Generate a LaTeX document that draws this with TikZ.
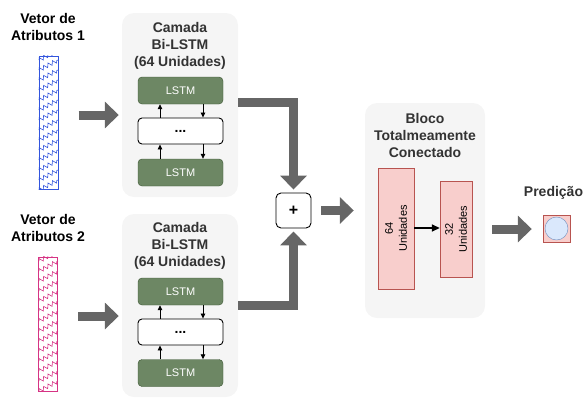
\documentclass[tikz,border=0pt]{standalone}
\usepackage{fontspec}
\setmainfont{Liberation Sans}
\usetikzlibrary{arrows.meta,decorations.pathmorphing}
\definecolor{cinzabloco}{HTML}{F5F5F5}
\definecolor{cinzaseta}{HTML}{666666}
\definecolor{verdelstm}{HTML}{6D8764}
\definecolor{bordalstm}{HTML}{3A5431}
\definecolor{rosadensa}{HTML}{F8CECC}
\definecolor{bordadensa}{HTML}{B85450}
\definecolor{azulsaida}{HTML}{DAE8FC}
\definecolor{bordasaida}{HTML}{6C8EBF}
\definecolor{azulvetor}{HTML}{3355DD}
\definecolor{rosavetor}{HTML}{D63384}
\definecolor{titulo}{HTML}{333333}

\begin{document}
\begin{tikzpicture}
[x=1pt,y=-1pt]
\tikzstyle{block node}=[rectangle,fill=cinzabloco,rounded corners=12pt,inner sep=0]
\tikzstyle{title node}=[align=center,text=titulo,font=\fontsize{14}{17}\selectfont\bfseries]
\tikzstyle{label node}=[align=center,font=\fontsize{14}{17}\selectfont\bfseries]
\tikzstyle{lstm node}=[rectangle,draw=bordalstm,fill=verdelstm,rounded corners=4pt,minimum width=85,minimum height=27,text=white,font=\fontsize{11}{13}\selectfont]
\tikzstyle{dots node}=[rectangle,draw,line width=0.9pt,fill=white,rounded corners=4pt,minimum width=85,minimum height=26,font=\fontsize{14}{17}\selectfont\bfseries]
\tikzstyle{dense node}=[rectangle,draw=bordadensa,fill=rosadensa,inner sep=0,align=center,font=\fontsize{11}{13}\selectfont]
\tikzstyle{vector node}=[rectangle,draw,line width=1pt,minimum width=19,inner sep=0]
\tikzstyle{big arrow}=[line width=9pt,cinzaseta,-{Triangle[length=14pt,width=26pt]}]
\tikzstyle{small arrow}=[line width=0.8pt,-{Triangle[length=5pt,width=4.5pt]}]
\tikzstyle{zig}=[line width=0.6pt,decorate,decoration={zigzag,segment length=5pt,amplitude=2pt}]

\useasboundingbox (0,0) rectangle (584,397);

% vetores de entrada
\node(v1)[vector node,draw=azulvetor,minimum height=133]at(48.5,122.5){};
\node(v2)[vector node,draw=rosavetor,minimum height=134]at(48,324){};
\begin{scope}
\clip (v1.south west) rectangle (v1.north east);
\foreach \k in {-1,...,14} \draw[zig,azulvetor] (39,{60+\k*10}) -- ++(19,-10);
\end{scope}
\begin{scope}
\clip (v2.south west) rectangle (v2.north east);
\foreach \k in {-1,...,14} \draw[zig,rosavetor] (39,{261+\k*10}) -- ++(19,-10);
\end{scope}
\node(l1)[label node]at(48,26.5){Vetor de\\Atributos 1};
\node(l2)[label node]at(48,227.5){Vetor de\\Atributos 2};

% camadas Bi-LSTM
\node(b1)[block node,minimum width=116,minimum height=184]at(180,105){};
\node(b2)[block node,minimum width=116,minimum height=183]at(180,305.5){};
\node(t1)[title node]at(180,45.5){Camada\\Bi-LSTM\\(64 Unidades)};
\node(t2)[title node]at(180,246){Camada\\Bi-LSTM\\(64 Unidades)};

\node(lt1)[lstm node]at(180.5,90.5){LSTM};
\node(d1)[dots node]at(180.5,131){...};
\node(lb1)[lstm node]at(180.5,172.5){LSTM};
\node(lt2)[lstm node]at(180.5,291.5){LSTM};
\node(d2)[dots node]at(180.5,332){...};
\node(lb2)[lstm node]at(180.5,373){LSTM};

\draw[small arrow]([xshift=-20.5]lb1.north)--([xshift=-20.5]d1.south);
\draw[small arrow]([xshift=-20.5]d1.north)--([xshift=-20.5]lt1.south);
\draw[small arrow]([xshift=22.5]lt1.south)--([xshift=22.5]d1.north);
\draw[small arrow]([xshift=22.5]d1.south)--([xshift=22.5]lb1.north);
\draw[small arrow]([xshift=-20.5]lb2.north)--([xshift=-20.5]d2.south);
\draw[small arrow]([xshift=-20.5]d2.north)--([xshift=-20.5]lt2.south);
\draw[small arrow]([xshift=22.5]lt2.south)--([xshift=22.5]d2.north);
\draw[small arrow]([xshift=22.5]d2.south)--([xshift=22.5]lb2.north);

% soma
\node(plus)[rectangle,draw,line width=0.9pt,fill=white,rounded corners=5pt,minimum size=35,font=\fontsize{16}{18}\selectfont\bfseries]at(293.5,210.5){+};

% bloco totalmente conectado
\node(fc)[block node,minimum width=120,minimum height=215]at(425,210.5){};
\node(tfc)[title node]at(425,135){Bloco\\Totalmeamente\\Conectado};
\node(d64)[dense node,minimum width=36,minimum height=121]at(396,228.5){};
\node[rotate=90,align=center,font=\fontsize{11}{14}\selectfont]at(d64){64\\Unidades};
\node(d32)[dense node,minimum width=32,minimum height=96]at(456,229){};
\node[rotate=90,align=center,font=\fontsize{11}{14}\selectfont]at(d32){32\\Unidades};
\draw[line width=1.5pt,-{Triangle[length=8pt,width=7pt]}](d64.east|-0,228)--(d32.west|-0,228);

% saida
\node(out)[rectangle,draw=bordadensa,fill=rosadensa,minimum size=27,inner sep=0]at(556.5,228.5){};
\node(circ)[circle,draw=bordasaida,fill=azulsaida,minimum size=23,inner sep=0]at(out){};
\node(pred)[label node,text=titulo]at(553.5,193){Predição};

% setas grossas
\draw[big arrow]([shift={(20,-7.5)}]v1.east)--([shift={(-3,10)}]b1.west);
\draw[big arrow]([shift={(20,-8)}]v2.east)--([shift={(-3,10.5)}]b2.west);
\draw[big arrow,shorten >=3pt]([yshift=3]b1.east)-|(plus.north);
\draw[big arrow,shorten >=3pt]([yshift=0.5]b2.east)-|(plus.south);
\draw[big arrow]([xshift=10]plus.east)--([xshift=-11]fc.west);
\draw[big arrow]([shift={(7,18.5)}]fc.east)--([shift={(-11,0.5)}]out.west);
\end{tikzpicture}
\end{document}
